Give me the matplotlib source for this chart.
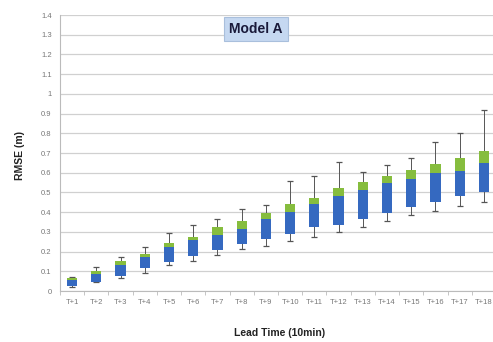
import numpy as np
import matplotlib.pyplot as plt

plt.rcParams["font.family"] = ["Liberation Sans", "DejaVu Sans"]

labels = [f"T+{i}" for i in range(1, 19)]
whisker_low = [0.02, 0.045, 0.066, 0.09, 0.132, 0.152, 0.183, 0.213, 0.23, 0.254,
               0.274, 0.30, 0.326, 0.355, 0.385, 0.405, 0.43, 0.45]
q1 = [0.025, 0.047, 0.076, 0.117, 0.149, 0.178, 0.208, 0.24, 0.264, 0.29,
      0.325, 0.335, 0.366, 0.395, 0.425, 0.45, 0.48, 0.50]
median = [0.056, 0.086, 0.132, 0.172, 0.225, 0.259, 0.284, 0.315, 0.365, 0.40,
          0.442, 0.482, 0.513, 0.55, 0.57, 0.60, 0.61, 0.65]
q3 = [0.068, 0.103, 0.152, 0.188, 0.245, 0.276, 0.326, 0.355, 0.395, 0.44,
      0.472, 0.523, 0.555, 0.584, 0.614, 0.645, 0.675, 0.71]
whisker_high = [0.07, 0.12, 0.172, 0.223, 0.294, 0.335, 0.365, 0.415, 0.437, 0.56,
                0.584, 0.656, 0.605, 0.64, 0.677, 0.756, 0.80, 0.92]

x = np.arange(1, len(labels) + 1)
q1 = np.array(q1)
median = np.array(median)
q3 = np.array(q3)

fig = plt.figure(figsize=(4.93, 3.42), dpi=100)
ax = fig.add_axes([60 / 493, 1 - 291 / 342, 436 / 493, 276 / 342])

# whiskers with caps
ax.errorbar(x, median, yerr=[median - np.array(whisker_low), np.array(whisker_high) - median],
            fmt="none", ecolor="#555555", elinewidth=0.7, capsize=2, capthick=0.9, zorder=2)
ax.bar(x, median - q1, bottom=q1, width=0.42, color="#3569c0", zorder=3)
ax.bar(x, q3 - median, bottom=median, width=0.42, color="#86bd3e", zorder=3)

ax.set_xlim(0.5, 18.5)
ax.set_ylim(0, 1.4)
yt = np.round(np.arange(0, 1.41, 0.1), 1)
ax.set_yticks(yt)
ax.set_yticklabels([f"{v:g}" for v in yt])
ax.set_xticks(x)
ax.set_xticklabels(labels)
ax.tick_params(axis="both", labelsize=5.5, colors="#777777", length=0, pad=6)
ax.set_xticks(np.arange(0.5, 18.6, 1), minor=True)
ax.tick_params(axis="x", which="minor", length=3, color="#bbbbbb")
ax.grid(axis="y", color="#d0d0d0", linewidth=0.9, zorder=0)
ax.set_axisbelow(True)
for s in ["top", "right"]:
    ax.spines[s].set_visible(False)
ax.spines["left"].set_color("#bbbbbb")
ax.spines["bottom"].set_color("#bbbbbb")

fig.text(20 / 493, 1 - 155 / 342, "RMSE (m)", rotation=90, ha="center", va="center",
         fontsize=7.5, fontweight="bold", color="#222222")
fig.text(280 / 493, 1 - 333 / 342, "Lead Time (10min)", ha="center", va="center",
         fontsize=7.5, fontweight="bold", color="#222222")
fig.text(256 / 493, 1 - 29 / 342, "Model A", ha="center", va="center",
         fontsize=10, fontweight="bold", color="#1a1a3a",
         bbox=dict(boxstyle="square,pad=0.35", facecolor="#c5d8f1", edgecolor="#a9bfdc", linewidth=0.8))

fig.savefig("out.png", dpi=100)
